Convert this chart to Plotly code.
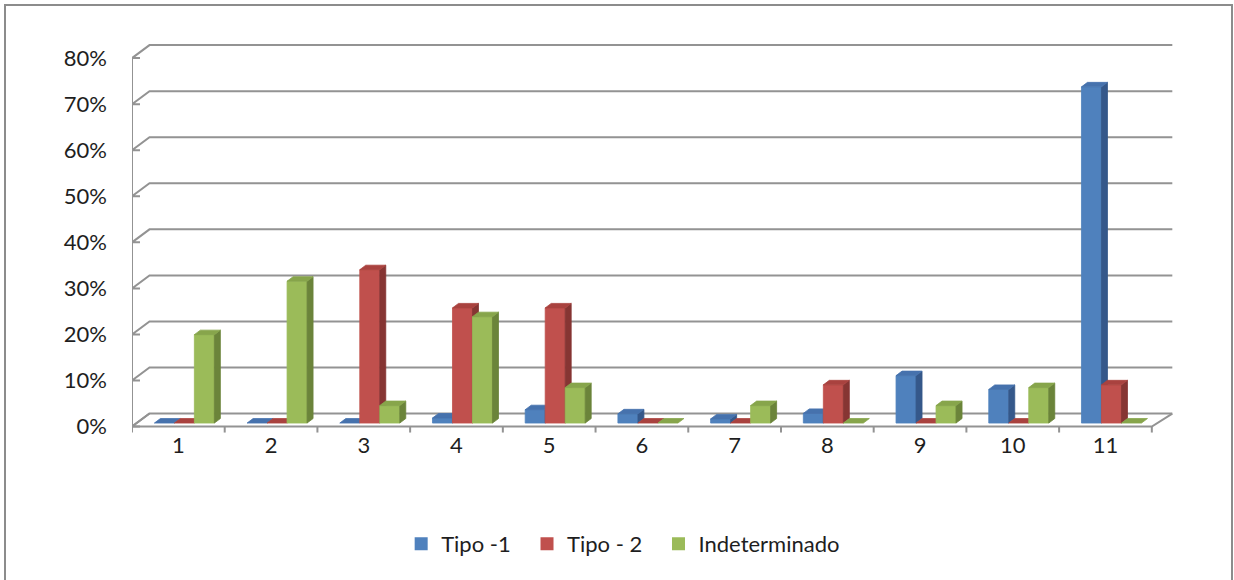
import plotly.graph_objects as go

# Share of each type per class (percent)
categories = ["1", "2", "3", "4", "5", "6", "7", "8", "9", "10", "11"]
tipo_1 = [0.0, 0.0, 0.0, 1.1, 2.9, 2.0, 0.9, 2.1, 10.3, 7.3, 73.0]
tipo_2 = [0.0, 0.0, 33.3, 25.0, 25.0, 0.0, 0.0, 8.3, 0.0, 0.0, 8.3]
indeterminado = [19.2, 30.8, 3.8, 23.1, 7.7, 0.0, 3.8, 0.0, 3.8, 7.7, 0.0]
y_ticks = [0, 10, 20, 30, 40, 50, 60, 70, 80]

series = [
    ("Tipo -1", tipo_1, "#4F81BD", "#35588A", "#4672AD"),
    ("Tipo - 2", tipo_2, "#C0504D", "#863533", "#A9423F"),
    ("Indeterminado", indeterminado, "#9BBB59", "#6B843A", "#87A54B"),
]

# pixel scale of the plot area, used for the oblique (3-D look) offsets
W, H = 1234, 580
L, R, T, B = 132, 59, 42, 147
X_RANGE = [0.5, 11.75]
Y_RANGE = [-1.4, 83.5]
px_x = (W - L - R) / (X_RANGE[1] - X_RANGE[0])
px_y = (H - T - B) / (Y_RANGE[1] - Y_RANGE[0])

DX = 20.5 / px_x          # depth of the floor / walls (right end)
DX_L = 17.5 / px_x        # depth at the left wall
DY = 13.0 / px_y
BAR_W = 20.0 / px_x       # bar width
BAR_DX = 6.0 / px_x       # bar depth
BAR_DY = 4.5 / px_y
BAR_SHIFT = 6.0 / px_x    # bars sit a little behind the front edge
BAR_BASE = 3.5 / px_y

GRID = "#939393"
n = len(categories)
xs = list(range(1, n + 1))
x_left, x_right = 0.5, n + 0.5

fig = go.Figure()

def add_lines(px, py, color=GRID, width=2):
    fig.add_trace(go.Scatter(x=px, y=py, mode="lines", line=dict(color=color, width=width),
                             hoverinfo="skip", showlegend=False))

# back wall gridlines, side-wall diagonals and small stubs on the value axis
gx, gy = [], []
for t in y_ticks:
    gx += [x_left + 8 / px_x, x_left, x_left + DX_L, x_right + DX, None]
    gy += [t, t, t + DY, t + DY, None]
add_lines(gx, gy)

# floor outline and the front value-axis line
add_lines([x_left + DX_L, x_left, x_right, x_right + DX, None, x_left, x_left],
          [DY, 0, 0, DY, None, 0, y_ticks[-1]])

# category boundary tick marks below the floor
tx, ty = [], []
for k in range(n + 1):
    tx += [x_left + k, x_left + k, None]
    ty += [0, -1.3, None]
add_lines(tx, ty)

# bars: front, side and top faces, drawn series by series so later bars overlap earlier ones
for i, (name, vals, c_front, c_side, c_top) in enumerate(series):
    fx, fy, sx, sy, ux, uy = [], [], [], [], [], []
    for c, v in zip(xs, vals):
        xl = c + BAR_SHIFT + (i - 1.5) * BAR_W
        xr = xl + BAR_W
        b = BAR_BASE
        top = b + v
        if v > 0:
            fx += [xl, xr, xr, xl, xl, None]
            fy += [b, b, top, top, b, None]
            sx += [xr, xr + BAR_DX, xr + BAR_DX, xr, xr, None]
            sy += [b, b + BAR_DY, top + BAR_DY, top, b, None]
        ux += [xl, xl + BAR_DX, xr + BAR_DX, xr, xl, None]
        uy += [top, top + BAR_DY, top + BAR_DY, top, top, None]
    for px, py, col in ((fx, fy, c_front), (sx, sy, c_side), (ux, uy, c_top)):
        fig.add_trace(go.Scatter(x=px, y=py, mode="lines", fill="toself", fillcolor=col,
                                 line=dict(color=col, width=0.8), hoverinfo="skip",
                                 showlegend=False))

# legend entries (non-breaking spaces widen the gap between entries)
for k, (name, vals, c_front, _, _) in enumerate(series):
    pad = "\u00a0\u00a0" if k < len(series) - 1 else ""
    fig.add_trace(go.Scatter(x=[None], y=[None], mode="markers", name=name + pad,
                             marker=dict(symbol="square", size=13, color=c_front)))

font = dict(family="Lato, 'Open Sans', sans-serif", size=22, color="#1e1e1e")

fig.update_layout(
    width=W, height=H,
    margin=dict(l=L, r=R, t=T, b=B),
    paper_bgcolor="white", plot_bgcolor="white",
    font=font,
    showlegend=True,
    legend=dict(orientation="h", x=0.505, xanchor="center", xref="container",
                y=1 - 544 / H, yanchor="middle", yref="container",
                font=font, itemwidth=30),
    xaxis=dict(range=X_RANGE, showgrid=False, zeroline=False, showline=False,
               tickmode="array", tickvals=xs, ticktext=categories, ticks="",
               ticklabelstandoff=-3),
    yaxis=dict(range=Y_RANGE, showgrid=False, zeroline=False, showline=False,
               tickmode="array", tickvals=y_ticks, ticktext=[f"{t}%" for t in y_ticks],
               ticks="", ticklabelstandoff=24),
    shapes=[dict(type="rect", xref="paper", yref="paper",
                 x0=(5 - L) / (W - L - R), x1=(1232 - L) / (W - L - R),
                 y0=(H - B - 590) / (H - T - B), y1=(H - B - 5) / (H - T - B),
                 line=dict(color="#8c8c8c", width=2), fillcolor="rgba(0,0,0,0)",
                 layer="below")],
)

fig.write_html("out.html")
